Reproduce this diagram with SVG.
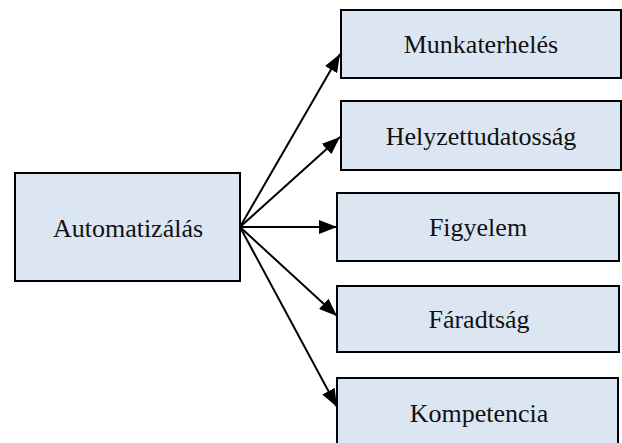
<svg xmlns="http://www.w3.org/2000/svg" width="622" height="443" viewBox="0 0 622 443">
  <style>
    .box { fill: #dce6f2; stroke: #000; stroke-width: 2; }
    .lbl { font-family: 'Liberation Serif', 'Times New Roman', Tinos, 'Noto Serif', 'DejaVu Serif', serif; font-size: 26px; fill: #111; text-anchor: middle; }
    .edge { stroke: #000; stroke-width: 2; fill: none; marker-end: url(#head); }
  </style>
  <defs>
    <marker id="head" viewBox="0 0 18 14" refX="18" refY="7" markerWidth="18" markerHeight="14" markerUnits="userSpaceOnUse" orient="auto">
      <path d="M0,0 L18,7 L0,14 Z" fill="#000"/>
    </marker>
  </defs>
  <rect width="622" height="443" fill="#fff"/>

  <g id="connectors">
    <line class="edge" x1="240" y1="227" x2="340" y2="54"/>
    <line class="edge" x1="240" y1="227" x2="340" y2="137"/>
    <line class="edge" x1="240" y1="227" x2="337" y2="227"/>
    <line class="edge" x1="240" y1="227" x2="337" y2="316"/>
    <line class="edge" x1="240" y1="227" x2="337" y2="407"/>
  </g>

  <g id="automatizalas">
    <rect class="box" x="15" y="173" width="225" height="108"/>
    <text class="lbl" x="128" y="237">Automatizálás</text>
  </g>
  <g id="munkaterheles">
    <rect class="box" x="341" y="10" width="280" height="68"/>
    <text class="lbl" x="481" y="53">Munkaterhelés</text>
  </g>
  <g id="helyzettudatossag">
    <rect class="box" x="341" y="101" width="280" height="69"/>
    <text class="lbl" x="481" y="145">Helyzettudatosság</text>
  </g>
  <g id="figyelem">
    <rect class="box" x="337" y="193" width="282" height="68"/>
    <text class="lbl" x="478" y="236">Figyelem</text>
  </g>
  <g id="faradtsag">
    <rect class="box" x="337" y="286" width="282" height="66"/>
    <text class="lbl" x="479" y="328">Fáradtság</text>
  </g>
  <g id="kompetencia">
    <rect class="box" x="337" y="378" width="281" height="72"/>
    <text class="lbl" x="479" y="422">Kompetencia</text>
  </g>
</svg>
